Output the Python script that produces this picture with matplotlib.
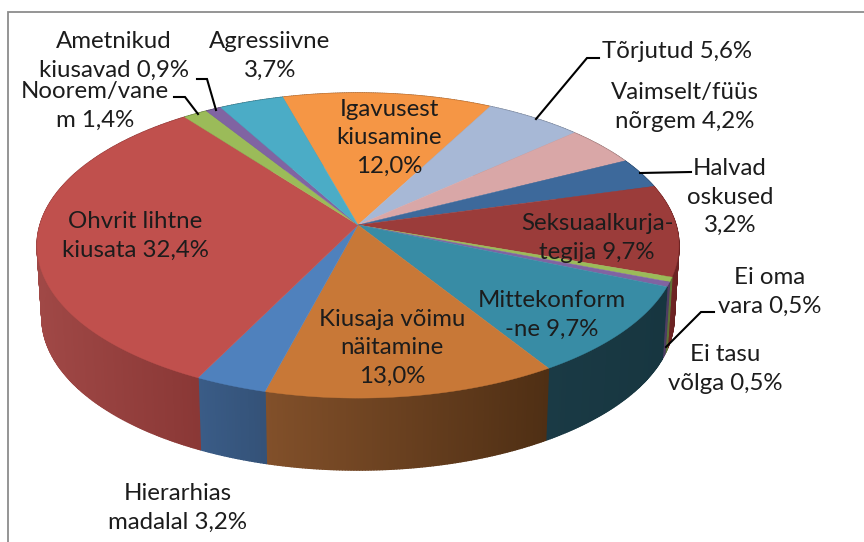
import numpy as np
import matplotlib
matplotlib.use("Agg")
import matplotlib.pyplot as plt
from matplotlib.collections import PolyCollection

plt.rcParams['font.family'] = ['Lato', 'DejaVu Sans']

# osakaalud, alustades "Igavusest" viilust päripäeva
names = ['Igavusest kiusamine', 'Tõrjutud', 'Vaimselt/füüs nõrgem', 'Halvad oskused',
         'Seksuaalkurjategija', 'Ei oma vara', 'Ei tasu võlga', 'Mittekonformne',
         'Kiusaja võimu näitamine', 'Hierarhias madalal', 'Ohvrit lihtne kiusata',
         'Noorem/vanem', 'Ametnikud kiusavad', 'Agressiivne']
values = [12.0, 5.6, 4.2, 3.2, 9.7, 0.5, 0.5, 9.7, 13.0, 3.2, 32.4, 1.4, 0.9, 3.7]
top_colors = ['#F59645', '#A7B8D6', '#D9A7A7', '#3D699B', '#9B3C3A', '#9BBB59', '#8064A2',
              '#388CA5', '#C87837', '#4F81BD', '#C0504D', '#9BBB59', '#8064A2', '#4BACC6']
side_left = ['#A8652E', '#707C91', '#937171', '#294769', '#7A2A2A', '#5F7336', '#4E3D63',
             '#1A3A45', '#82502A', '#3A5C87', '#A04846', '#5F7336', '#4E3D63', '#2E6979']
side_right = ['#A8652E', '#707C91', '#937171', '#294769', '#6B2222', '#5F7336', '#4E3D63',
              '#173640', '#4F2F14', '#345278', '#8A3836', '#5F7336', '#4E3D63', '#2E6979']

labels = [
    ('Igavusest\nkiusamine\n12,0%', 389, 138),
    ('Tõrjutud 5,6%', 677, 52),
    ('Vaimselt/füüs\nnõrgem 4,2%', 685, 107),
    ('Halvad\noskused\n3,2%', 730, 197),
    ('Seksuaalkurja-\ntegija 9,7%', 597, 238),
    ('Ei oma\nvara 0,5%', 770, 292),
    ('Ei tasu\nvõlga 0,5%', 725, 369),
    ('Mittekonform\n-ne 9,7%', 552, 315),
    ('Kiusaja võimu\nnäitamine\n13,0%', 392, 348),
    ('Hierarhias\nmadalal 3,2%', 178, 508),
    ('Ohvrit lihtne\nkiusata 32,4%', 135, 236),
    ('Noorem/vane\nm 1,4%', 95, 106),
    ('Ametnikud\nkiusavad 0,9%', 114, 56),
    ('Agressiivne\n3,7%', 270, 56),
]
leaders = [
    ([197, 207, 216], [79, 79, 110]),
    ([174, 185, 198], [97, 97, 114]),
    ([599, 587, 536], [58, 58, 119]),
    ([691, 640], [172, 173]),
    ([714, 701, 666], [312, 312, 347]),
]

# pirukas perspektiivis
cx, cy = 358, 225
a, b, k = 318, 149.8, 0.1345
depth = 72
shrink = 0.985
start = -15.5


def project(theta):
    t = np.radians(theta)
    w = 1 + k * np.cos(t)
    return cx + a * np.sin(t) / w, cy - b * np.cos(t) / w


fig = plt.figure(figsize=(8.64, 5.42), dpi=100)
ax = fig.add_axes([0, 0, 1, 1])
ax.set_xlim(0, 864)
ax.set_ylim(542, 0)
ax.axis('off')

# raam
ax.plot([8, 8, 864], [542, 12, 12], color='#8C8C8C', lw=1.3, solid_joinstyle='miter')

edges = start + np.cumsum([0] + values) * 3.6

# küljed
quads, quad_colors = [], []
for i in range(len(values)):
    th = np.linspace(edges[i], edges[i + 1], max(3, int(values[i] * 8)))
    x, y = project(th)
    xb = cx + (x - cx) * shrink
    yb = y + depth
    c0 = np.array(matplotlib.colors.to_rgb(side_left[i]))
    c1 = np.array(matplotlib.colors.to_rgb(side_right[i]))
    span = max(x.max() - x.min(), 1)
    for j in range(len(th) - 1):
        f = (x[j] - x.min()) / span
        quads.append([(x[j], y[j]), (x[j + 1], y[j + 1]), (xb[j + 1], yb[j + 1]), (xb[j], yb[j])])
        quad_colors.append(c0 + (c1 - c0) * f)
ax.add_collection(PolyCollection(quads, facecolors=quad_colors, edgecolors=quad_colors, linewidths=1.0))

# pealmine pind
for i in range(len(values)):
    th = np.linspace(edges[i], edges[i + 1], max(3, int(values[i] * 8)))
    x, y = project(th)
    ax.fill(np.r_[cx, x], np.r_[cy, y], color=top_colors[i], lw=0.3)

for xs, ys in leaders:
    ax.plot(xs, ys, color='black', lw=1.5, solid_joinstyle='miter')

for text, x, y in labels:
    ax.text(x, y, text, ha='center', va='center', fontsize=17.3, color='#1C1C1C',
            linespacing=1.42)

fig.savefig('out.png', dpi=100)
